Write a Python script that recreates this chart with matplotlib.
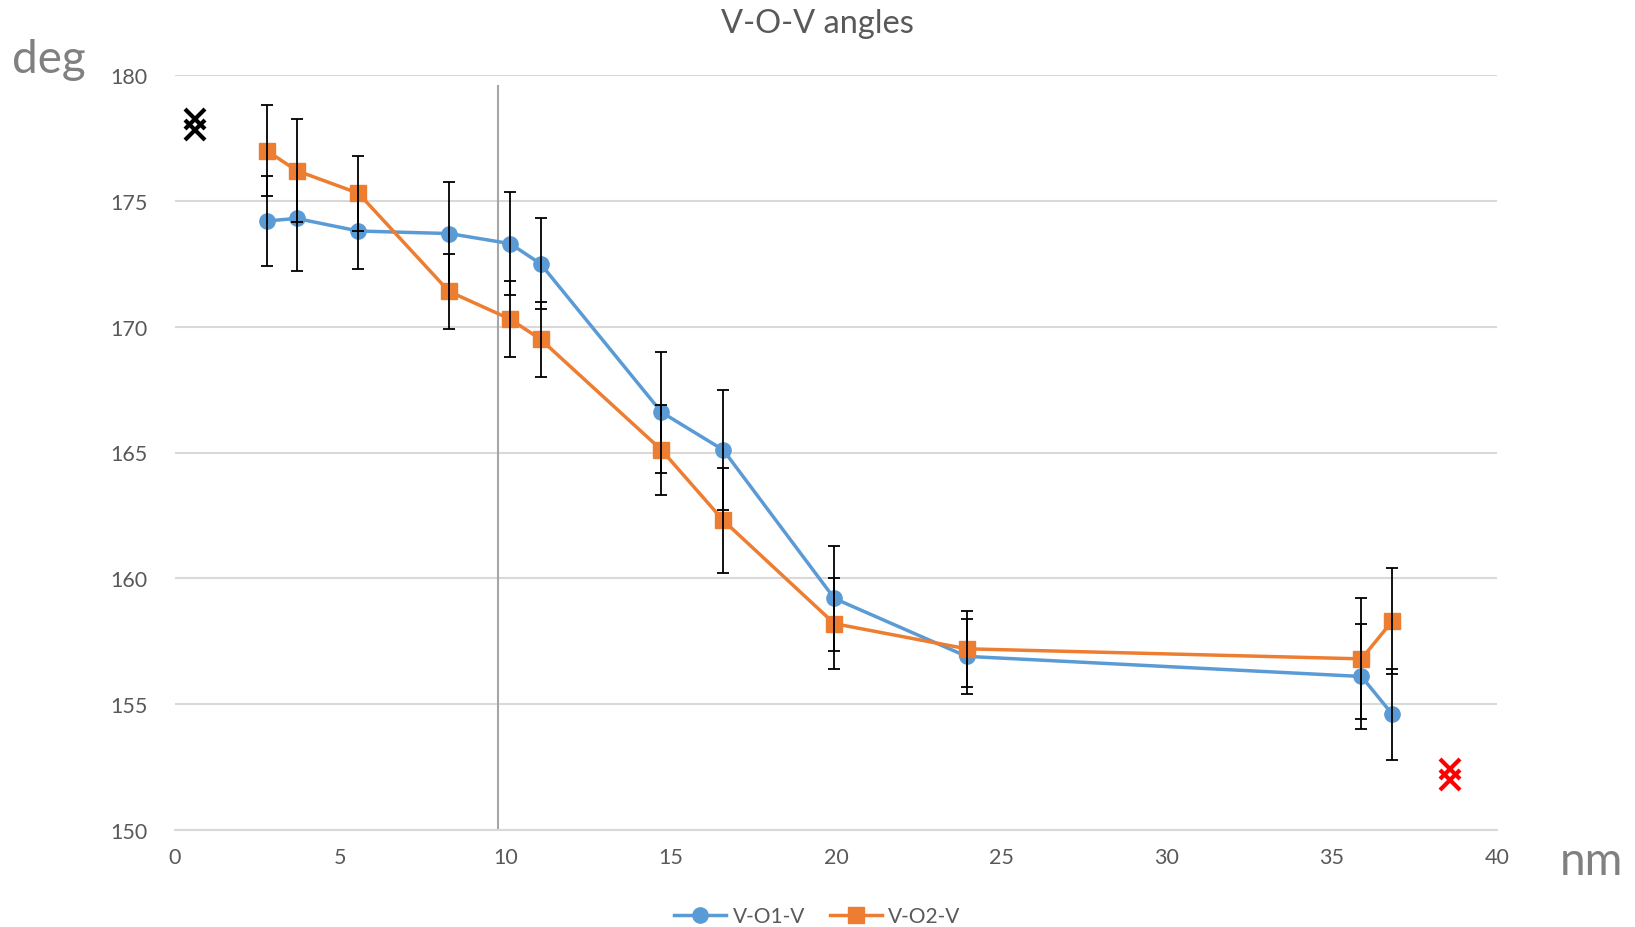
import matplotlib
matplotlib.use("Agg")
import matplotlib.pyplot as plt

plt.rcParams['font.family'] = ['Lato', 'DejaVu Sans']

# ---- data ----
x_nm = [2.77, 3.68, 5.55, 8.29, 10.14, 11.06, 14.72, 16.59, 19.95, 23.95, 35.9, 36.83]
v_o1_v = [174.2, 174.3, 173.8, 173.7, 173.3, 172.5, 166.6, 165.1, 159.2, 156.9, 156.1, 154.6]
v_o1_v_err = [1.8, 2.1, 1.5, 2.05, 2.06, 1.8, 2.4, 2.4, 2.1, 1.5, 2.1, 1.8]
v_o2_v = [177.0, 176.2, 175.3, 171.4, 170.3, 169.5, 165.1, 162.3, 158.2, 157.2, 156.8, 158.3]
v_o2_v_err = [1.8, 2.05, 1.5, 1.5, 1.5, 1.5, 1.8, 2.1, 1.8, 1.5, 2.4, 2.1]

bulk_x = [0.6, 0.6]
bulk_y = [178.25, 177.8]
red_x = [38.58, 38.58]
red_y = [152.42, 152.0]

vline_x = 9.77
vline_top = 179.55

x_ticks = [0, 5, 10, 15, 20, 25, 30, 35, 40]
y_ticks = [150, 155, 160, 165, 170, 175, 180]

blue = '#5B9BD5'
orange = '#ED7D31'
grid_c = '#D9D9D9'
txt_c = '#595959'

fig = plt.figure(figsize=(16.35, 9.28), dpi=100)
ax = fig.add_axes([175/1635, 1-831/928, (1497-175)/1635, (831-76)/928])

ax.set_xlim(0, 40)
ax.set_ylim(150, 180)
ax.set_xticks(x_ticks)
ax.set_yticks(y_ticks)
ax.yaxis.grid(True, color=grid_c, linewidth=1.5, zorder=0)
ax.set_axisbelow(True)
for s in ['left', 'right', 'top']:
    ax.spines[s].set_visible(False)
ax.spines['bottom'].set_color(grid_c)
ax.spines['bottom'].set_linewidth(1.5)
ax.tick_params(axis='both', length=0, labelsize=15.5, colors=txt_c, pad=12)
ax.tick_params(axis='y', pad=20)

ax.plot([vline_x, vline_x], [150, vline_top], color='#A6A6A6', linewidth=1.5, zorder=1)

l1, = ax.plot(x_nm, v_o1_v, color=blue, linewidth=2.5, marker='o', markersize=11,
              label='V-O1-V', zorder=3)
ax.errorbar(x_nm, v_o1_v, yerr=v_o1_v_err, fmt='none', ecolor='black', elinewidth=1.3,
            capsize=4.5, capthick=1.3, zorder=4)
l2, = ax.plot(x_nm, v_o2_v, color=orange, linewidth=2.5, marker='s', markersize=11,
              label='V-O2-V', zorder=5)
ax.errorbar(x_nm, v_o2_v, yerr=v_o2_v_err, fmt='none', ecolor='black', elinewidth=1.3,
            capsize=4.5, capthick=1.3, zorder=6)

ax.plot(bulk_x, bulk_y, linestyle='none', marker='x', markersize=14, mew=3,
        color='black', zorder=7, clip_on=False)
ax.plot(red_x, red_y, linestyle='none', marker='x', markersize=14, mew=3,
        color='red', zorder=7, clip_on=False)

fig.text(0.5, 1-24/928, 'V-O-V angles', ha='center', va='center', fontsize=23.5, color=txt_c)
fig.text(12/1635, 1-60/928, 'deg', ha='left', va='center', fontsize=33, color='#808080')
fig.text(1560/1635, 1-862/928, 'nm', ha='left', va='center', fontsize=33, color='#808080')

fig.legend(handles=[l1, l2], loc='center', bbox_to_anchor=(0.5, 1-917/928), ncol=2,
           frameon=False, fontsize=15, labelcolor=txt_c, handlelength=2.5,
           handletextpad=0.3, columnspacing=1.2)

fig.savefig('out.png', dpi=100)
